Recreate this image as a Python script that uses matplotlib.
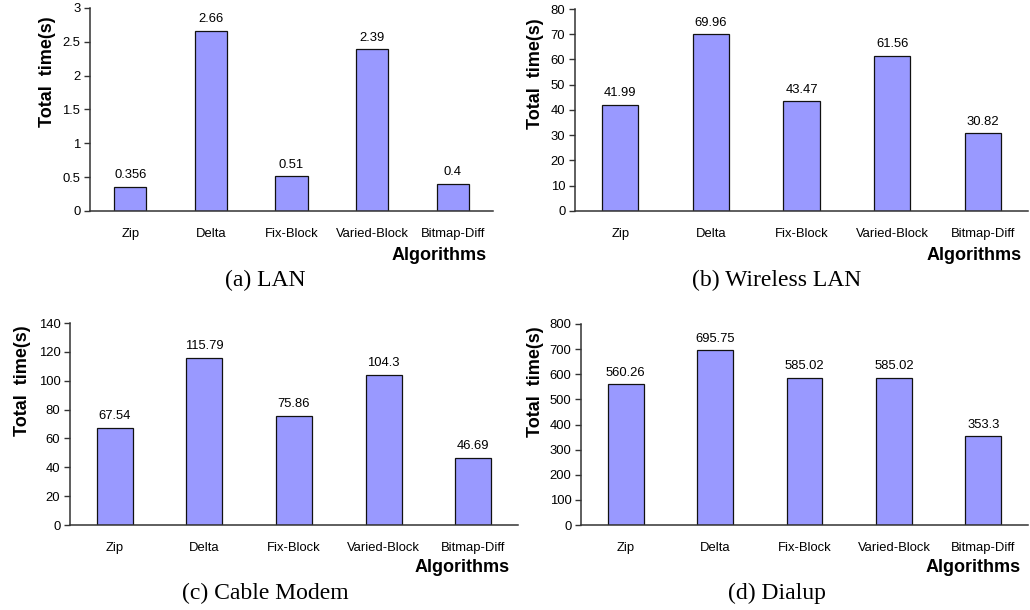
import matplotlib
matplotlib.use("Agg")
import matplotlib.pyplot as plt

W, H = 1030, 610

# data
algorithms = ["Zip", "Delta", "Fix-Block", "Varied-Block", "Bitmap-Diff"]
lan = [0.356, 2.66, 0.51, 2.39, 0.4]
wireless_lan = [41.99, 69.96, 43.47, 61.56, 30.82]
cable_modem = [67.54, 115.79, 75.86, 104.3, 46.69]
dialup = [560.26, 695.75, 585.02, 585.02, 353.3]
lan_labels = ["0.356", "2.66", "0.51", "2.39", "0.4"]
wireless_labels = ["41.99", "69.96", "43.47", "61.56", "30.82"]
cable_labels = ["67.54", "115.79", "75.86", "104.3", "46.69"]
dialup_labels = ["560.26", "695.75", "585.02", "585.02", "353.3"]
captions = ["(a) LAN", "(b) Wireless LAN", "(c) Cable Modem", "(d) Dialup"]

plt.rcParams["font.family"] = ["Liberation Sans", "DejaVu Sans"]

fig = plt.figure(figsize=(W / 100, H / 100), dpi=100)


def px(x, y):
    return x / W, 1 - y / H


# panel definitions: values, labels, y max, y step, axes box in px (left, top, right, bottom)
panels = [
    (lan, lan_labels, 3, 0.5, (90, 8, 493, 211)),
    (wireless_lan, wireless_labels, 80, 10, (575, 9, 1028, 211)),
    (cable_modem, cable_labels, 140, 20, (70, 323, 518, 525)),
    (dialup, dialup_labels, 800, 100, (581, 324, 1028, 525)),
]
ylabel_pos = [(47, 72), (535, 74), (23, 381), (535, 382)]
algo_pos = [(487, 255), (1022, 255), (510, 568), (1021, 568)]
caption_pos = [(265, 280), (777, 280), (265, 593), (777, 593)]

for i, (vals, labs, ymax, step, box) in enumerate(panels):
    l, t, r, b = box
    ax = fig.add_axes([l / W, 1 - b / H, (r - l) / W, (b - t) / H])
    x = range(len(algorithms))
    bars = ax.bar(x, vals, width=0.4, color="#9999FF", edgecolor="#111111", linewidth=0.9)
    for bar, lab in zip(bars, labs):
        ax.annotate(lab, (bar.get_x() + bar.get_width() / 2, bar.get_height()),
                    xytext=(0, 4), textcoords="offset points",
                    ha="center", va="bottom", fontsize=9.4)
    ax.set_xlim(-0.5, len(algorithms) - 0.5)
    ax.set_ylim(0, ymax)
    ticks = [k * step for k in range(int(round(ymax / step)) + 1)]
    ax.set_yticks(ticks)
    ax.set_yticklabels([f"{v:g}" for v in ticks])
    ax.set_xticks(list(x))
    ax.set_xticklabels(algorithms)
    ax.tick_params(axis="x", length=0, pad=12, labelsize=9.4)
    ax.tick_params(axis="y", length=4, width=1, direction="out", pad=3,
                   labelsize=9.4, color="#333333")
    for s in ["top", "right"]:
        ax.spines[s].set_visible(False)
    for s in ["left", "bottom"]:
        ax.spines[s].set_color("#333333")
        ax.spines[s].set_linewidth(1.1)

    fig.text(*px(*ylabel_pos[i]), "Total  time(s)", rotation=90, ha="center",
             va="center", fontsize=13, fontweight="bold")
    fig.text(*px(*algo_pos[i]), "Algorithms", ha="right", va="center",
             fontsize=13, fontweight="bold")
    fig.text(*px(*caption_pos[i]), captions[i], ha="center", va="center",
             fontsize=17, family=["Liberation Serif", "DejaVu Serif"])

fig.savefig("out.png", dpi=100)
